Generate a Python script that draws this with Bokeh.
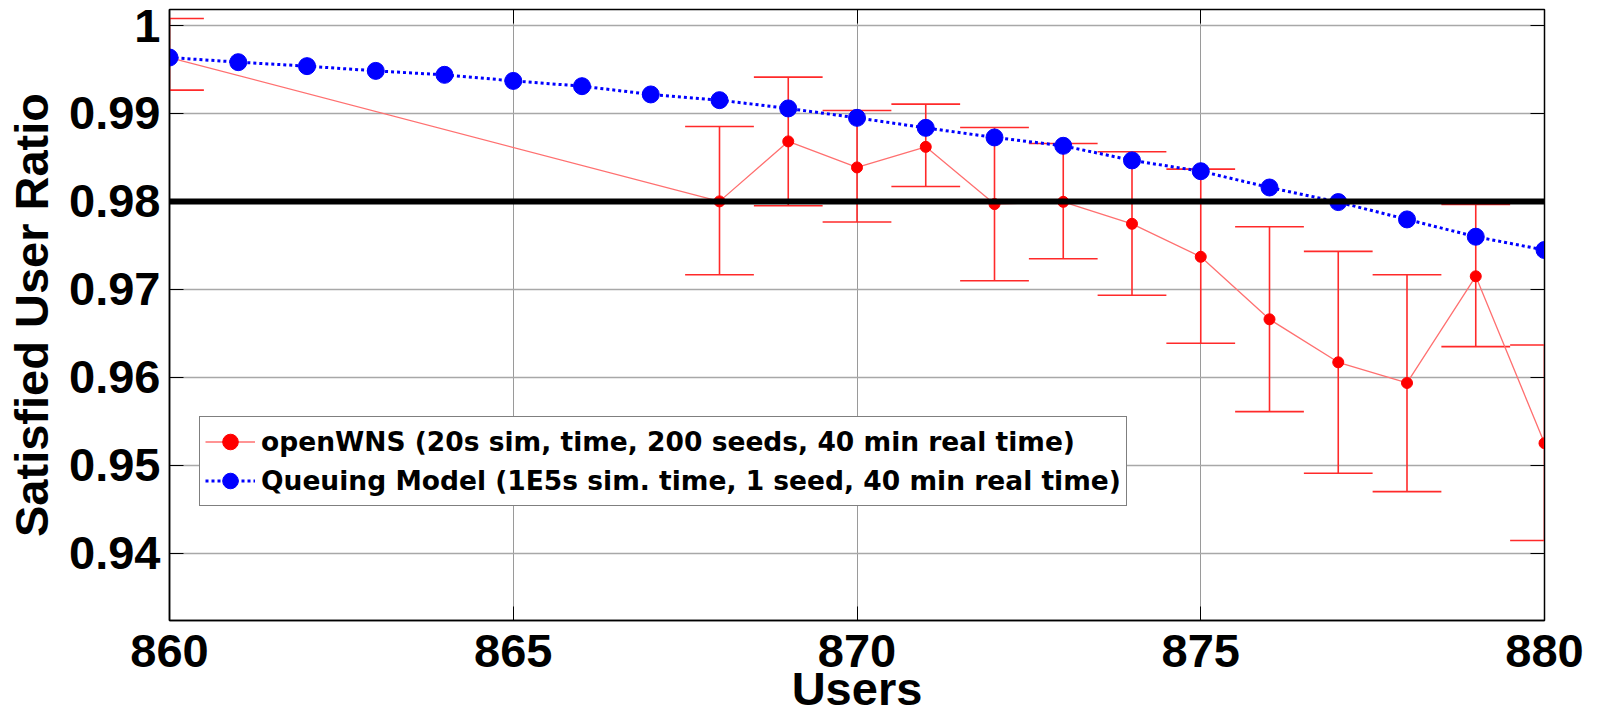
from bokeh.plotting import figure
from bokeh.models import (ColumnDataSource, Legend, LegendItem, LinearAxis, FixedTicker,
                          CustomJSTickFormatter, Range1d, Span)
from bokeh.embed import file_html
from bokeh.resources import INLINE

# ---------------- data ----------------
users_q = [860, 861, 862, 863, 864, 865, 866, 867, 868, 869, 870,
           871, 872, 873, 874, 875, 876, 877, 878, 879, 880]
ratio_q = [0.99636, 0.99583, 0.99538, 0.99484, 0.99439, 0.99370, 0.99310, 0.99216,
           0.99151, 0.99057, 0.98950, 0.98836, 0.98727, 0.98632, 0.98466, 0.98343,
           0.98158, 0.97992, 0.97795, 0.97598, 0.97447]

users_w = [860, 868, 869, 870, 871, 872, 873, 874, 875, 876, 877, 878, 879, 880]
ratio_w = [0.99636, 0.98000, 0.98682, 0.98386, 0.98620, 0.97969, 0.97995,
           0.97745, 0.97370, 0.96659, 0.96170, 0.95935, 0.97148, 0.95250]
upper_w = [1.00080, 0.98852, 0.99413, 0.99034, 0.99106, 0.98841, 0.98659,
           0.98564, 0.98367, 0.97711, 0.97432, 0.97166, 0.97966, 0.96367]
lower_w = [0.99265, 0.97166, 0.97950, 0.97765, 0.98170, 0.97098, 0.97348,
           0.96932, 0.96386, 0.95609, 0.94909, 0.94700, 0.96348, 0.94143]

target_ratio = 0.98
x_ticks = [860, 865, 870, 875, 880]
y_ticks = [0.94, 0.95, 0.96, 0.97, 0.98, 0.99, 1.0]

label_w = "openWNS (20s sim, time, 200 seeds, 40 min real time)"
label_q = "Queuing Model (1E5s sim. time, 1 seed, 40 min real time)"
x_title = "Users"
y_title = "Satisfied User Ratio"

FONT = "Liberation Sans"
Y_MIN, Y_MAX = 0.93234, 1.00182

src_q = ColumnDataSource(dict(x=users_q, y=ratio_q))
src_w = ColumnDataSource(dict(x=users_w, y=ratio_w, hi=upper_w, lo=lower_w,
                              xl=[u - 0.5 for u in users_w],
                              xr=[u + 0.5 for u in users_w]))

p = figure(width=1597, height=718, output_backend="svg", toolbar_location=None,
           x_range=Range1d(860, 880), y_range=Range1d(Y_MIN, Y_MAX),
           min_border_left=169, min_border_right=53, min_border_top=9,
           min_border_bottom=98, background_fill_color="white",
           border_fill_color="white")

p.outline_line_color = "black"
p.outline_line_width = 1.5

for ax in (p.xaxis[0], p.yaxis[0]):
    ax.major_label_text_font = FONT
    ax.major_label_text_font_style = "bold"
    ax.major_label_text_font_size = "47px"
    ax.major_label_text_color = "black"
    ax.major_tick_in = 14
    ax.major_tick_out = 0
    ax.minor_tick_in = 0
    ax.minor_tick_out = 0
    ax.axis_line_color = "black"
    ax.axis_line_width = 1.5
    ax.major_tick_line_color = "black"
    ax.axis_label_text_font = FONT
    ax.axis_label_text_font_style = "bold"
    ax.axis_label_text_font_size = "47px"
    ax.axis_label_text_color = "black"

p.xaxis[0].ticker = FixedTicker(ticks=x_ticks)
p.yaxis[0].ticker = FixedTicker(ticks=y_ticks)
p.yaxis[0].formatter = CustomJSTickFormatter(
    code="return tick.toFixed(2).replace(/\\.?0+$/, '');")
p.xaxis[0].major_label_standoff = 14
p.yaxis[0].major_label_standoff = 9

p.yaxis[0].axis_label = y_title
p.yaxis[0].axis_label_standoff = 8
p.xaxis[0].axis_label = x_title
p.xaxis[0].axis_label_standoff = -8

# top and right tick-only axes (MATLAB box ticks)
blank = CustomJSTickFormatter(code="return '';")
top_ax = LinearAxis(ticker=FixedTicker(ticks=x_ticks), formatter=blank,
                    major_label_text_font_size="2px",
                    major_tick_in=14, major_tick_out=0, minor_tick_in=0, minor_tick_out=0,
                    major_label_standoff=0, axis_line_color="black")
right_ax = LinearAxis(ticker=FixedTicker(ticks=y_ticks), formatter=blank,
                      major_label_text_font_size="2px",
                      major_tick_in=14, major_tick_out=0, minor_tick_in=0, minor_tick_out=0,
                      major_label_standoff=0, axis_line_color="black")
p.add_layout(top_ax, "above")
p.add_layout(right_ax, "right")

p.xgrid[0].ticker = FixedTicker(ticks=x_ticks)
p.ygrid[0].ticker = FixedTicker(ticks=y_ticks)
p.xgrid.grid_line_color = "#9a9a9a"
p.ygrid.grid_line_color = "#a8a8a8"
p.xgrid.grid_line_width = 1
p.ygrid.grid_line_width = 1.5

# target line
p.add_layout(Span(location=target_ratio, dimension="width", line_color="black",
                  line_width=6))

# openWNS error bars
p.segment(x0="x", y0="lo", x1="x", y1="hi", source=src_w, line_color="#ff2a2a",
          line_width=1.6)
p.segment(x0="xl", y0="hi", x1="xr", y1="hi", source=src_w, line_color="#ff2a2a",
          line_width=1.6)
p.segment(x0="xl", y0="lo", x1="xr", y1="lo", source=src_w, line_color="#ff2a2a",
          line_width=1.6)
r_wl = p.line("x", "y", source=src_w, line_color="#ff7070", line_width=1.3)
r_wd = p.scatter("x", "y", source=src_w, size=11, marker="circle",
                 fill_color="#ff0000", line_color="#ff0000")

# queuing model
r_ql = p.line("x", "y", source=src_q, line_color="#0000ff", line_width=3,
              line_dash="3 3")
r_qd = p.scatter("x", "y", source=src_q, size=17, marker="circle",
                 fill_color="#0000ff", line_color="#0000ff")

legend = Legend(items=[LegendItem(label=label_w, renderers=[r_wl, r_wd]),
                       LegendItem(label=label_q, renderers=[r_ql, r_qd])],
                location=(30, 114), orientation="vertical",
                label_text_font="DejaVu Sans", label_text_font_style="bold",
                label_text_font_size="26.5px", label_text_color="black",
                glyph_width=50, glyph_height=39, label_height=39, label_standoff=6,
                padding=5, spacing=0, margin=0,
                border_line_color="black", border_line_width=1.5,
                background_fill_color="white", background_fill_alpha=1)
p.add_layout(legend)

open("out.html", "w").write(file_html(p, INLINE))
